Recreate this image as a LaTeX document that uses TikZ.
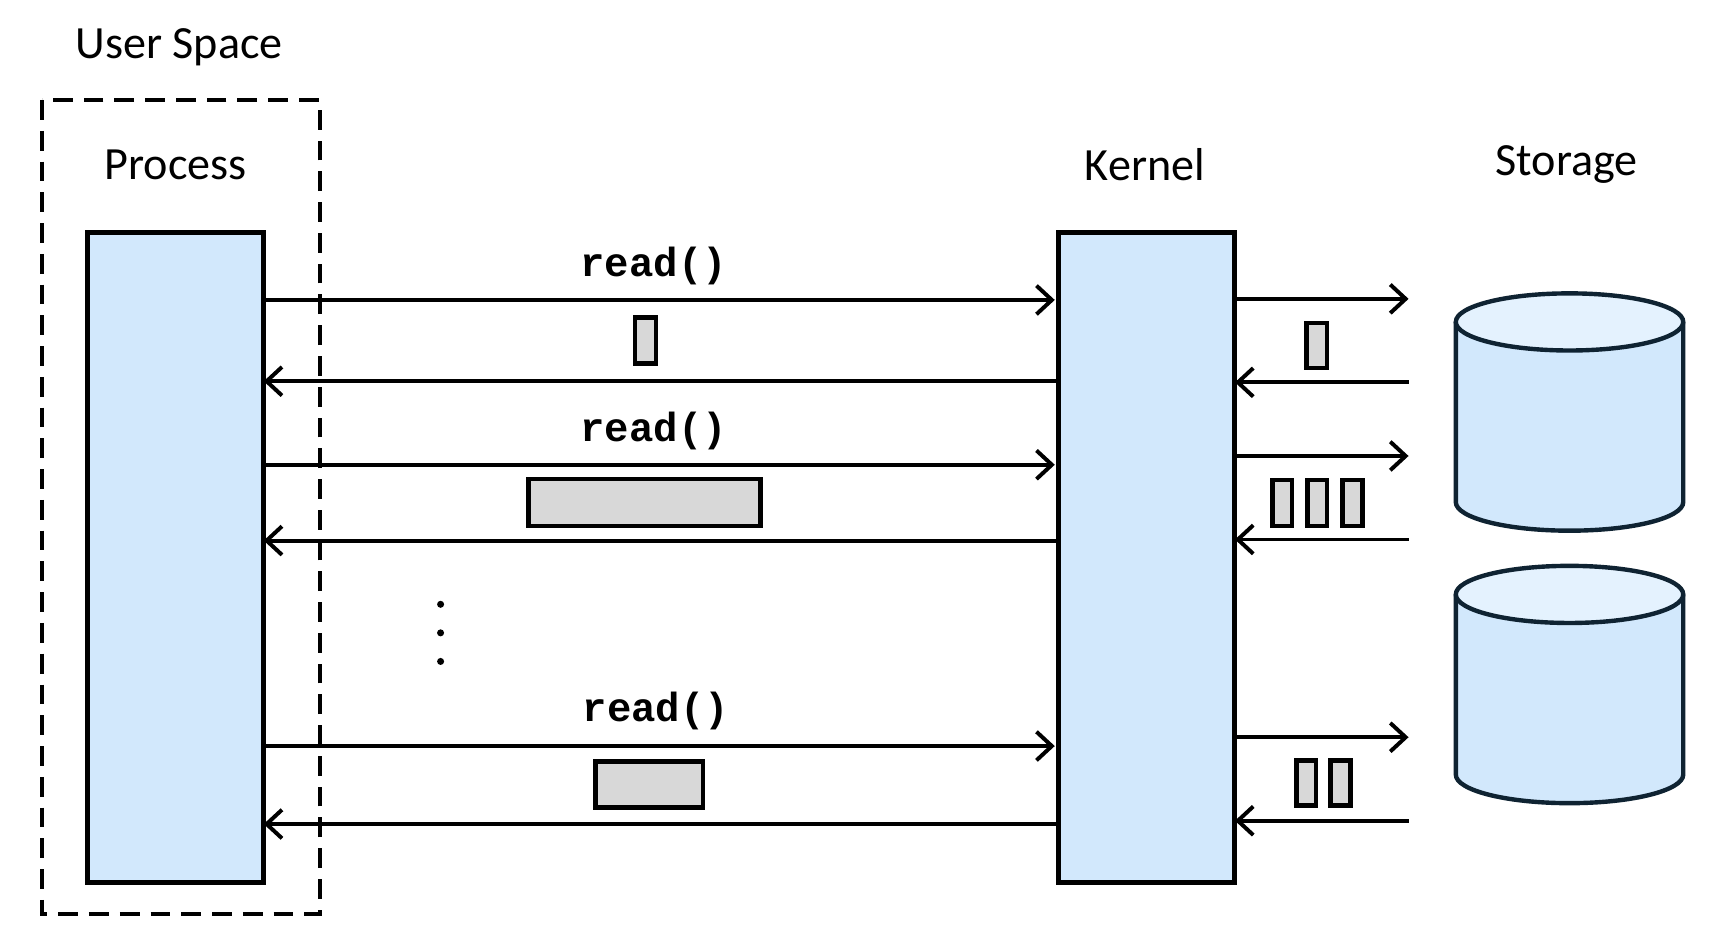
\documentclass[tikz,border=0pt]{standalone}
\usepackage{fontspec}
\setmainfont{Carlito}
\newfontfamily\mono{Liberation Mono}
\usetikzlibrary{arrows.meta}
\begin{document}
\begin{tikzpicture}[x=0.5pt,y=-0.5pt,
  lbl/.style={font=\fontsize{21}{25}\selectfont},
  call/.style={font=\mono\bfseries\fontsize{18.5}{22}\selectfont},
  blk/.style={draw=black,line width=2.3pt,fill={rgb,255:red,210;green,232;blue,252}},
  pkt/.style={draw=black,line width=2pt,fill={rgb,255:red,216;green,216;blue,216}},
  arr/.style={line width=1.8pt,-{Straight Barb[length=7pt,width=13pt,line width=1.8pt]}},
  cyl/.style={draw={rgb,255:red,15;green,35;blue,50},line width=2pt}]
\useasboundingbox (0,0) rectangle (1560,852);
\definecolor{cylfill}{RGB}{210,232,252}
\definecolor{cyltop}{RGB}{228,242,254}
\node[lbl] (us) at (163,43) {User Space};
\draw[line width=2pt,dash pattern=on 9pt off 5pt] (38,91) rectangle (291,832);
\node[lbl] (pt) at (160,150) {Process};
\node[lbl] (kt) at (1042,150) {Kernel};
\node[lbl] (st) at (1426,150) {Storage};
\draw[blk] (80,212) rectangle (240,803);
\draw[blk] (963,212) rectangle (1124,803);
\foreach \n/\y in {a/273,b/347,c/423,d/492,e/679,f/750}{
  \coordinate (P\n) at (240,\y); \coordinate (K\n) at (960,\y); \coordinate (Kl\n) at (963,\y);}
\draw[arr] (Pa) -- (Ka);
\draw[arr] (Klb) -- (Pb);
\draw[arr] (Pc) -- (Kc);
\draw[arr] (Kld) -- (Pd);
\draw[arr] (Pe) -- (Ke);
\draw[arr] (Klf) -- (Pf);
\node[call] (r1) at (595,242) {read()};
\node[call] (r2) at (595,392) {read()};
\node[call] (r3) at (597,647) {read()};
\draw[pkt] (578,289) rectangle (597,331);
\draw[pkt] (481,436) rectangle (692,479);
\draw[pkt] (542,693) rectangle (640,735);
\foreach \y in {550,576,602} \fill (401,\y) circle (3.2);
\foreach \n/\y in {a/272,b/348,c/415,d/491,e/671,f/747}{
  \coordinate (R\n) at (1124,\y); \coordinate (S\n) at (1282,\y);}
\draw[arr] (Ra) -- (Sa);
\draw[arr] (Sb) -- (Rb);
\draw[arr] (Rc) -- (Sc);
\draw[arr] (Sd) -- (Rd);
\draw[arr] (Re) -- (Se);
\draw[arr] (Sf) -- (Rf);
\draw[pkt] (1189,294) rectangle (1208,335);
\foreach \x in {1158,1190,1222} \draw[pkt] (\x,437) rectangle (\x+18,479);
\foreach \x in {1180,1211} \draw[pkt] (\x,692) rectangle (\x+18,733);
\foreach \t/\b in {293/457,541/705}{
  \fill[cylfill] (1325,\t) -- (1325,\b) arc[start angle=180,end angle=0,x radius=103.5,y radius=26] -- (1532,\t) -- cycle;
  \draw[cyl] (1325,\t) -- (1325,\b) arc[start angle=180,end angle=0,x radius=103.5,y radius=26] -- (1532,\t);
  \draw[cyl,fill=cyltop] (1428.5,\t) ellipse[x radius=103.5,y radius=26];
}
\end{tikzpicture}
\end{document}
